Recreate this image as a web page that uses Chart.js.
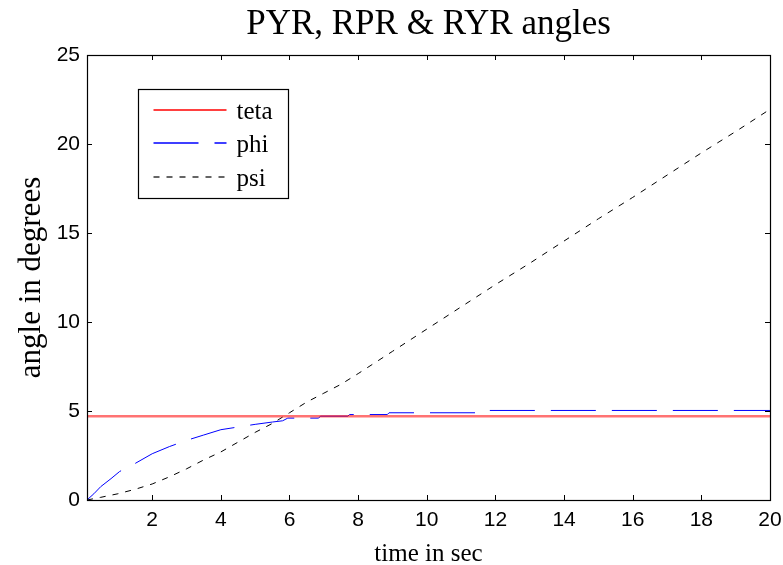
<!DOCTYPE html>
<html>
<head>
<meta charset="utf-8">
<script src="https://cdn.jsdelivr.net/npm/chart.js@4/dist/chart.umd.min.js"></script>
<style>
  body { margin: 0; background: #fff; }
</style>
</head>
<body>
<canvas id="myChart" width="783" height="565"></canvas>
<script>
// values
var xTicks = [2, 4, 6, 8, 10, 12, 14, 16, 18, 20];
var yTicks = [0, 5, 10, 15, 20, 25];

var tetaTime = [0.1, 20];
var tetaAngle = [4.7, 4.7];

var phiTime = [0.1, 0.3, 0.5, 0.8, 1.05, 1.5, 2, 2.5, 3, 3.5, 4, 4.5, 5, 5.5, 5.8, 5.95, 6.85, 6.9, 7.7, 7.75, 8.85, 8.9, 11.45, 11.5, 20];
var phiAngle = [0, 0.35, 0.75, 1.2, 1.6, 2.05, 2.6, 3.0, 3.35, 3.65, 3.95, 4.1, 4.25, 4.38, 4.45, 4.6, 4.6, 4.71, 4.71, 4.8, 4.8, 4.9, 4.9, 5.03, 5.03];

var psiTime = [0.1, 0.5, 1, 1.5, 2, 2.5, 3, 3.5, 4, 4.5, 5, 5.5, 6, 6.5, 7, 7.5, 8, 9, 10, 11, 12, 13, 14, 15, 16, 17, 18, 19, 20];
var psiAngle = [0, 0.15, 0.35, 0.6, 0.9, 1.3, 1.75, 2.25, 2.7, 3.25, 3.8, 4.3, 4.9, 5.5, 6.0, 6.5, 7.1, 8.35, 9.6, 10.85, 12.1, 13.3, 14.55, 15.8, 17.0, 18.25, 19.5, 20.7, 21.95];

// line colours used in the legend box (the plotted teta line is a softer red)
var legendColors = ['#ff0000', '#0000ff', '#333333'];

function toPoints(xs, ys) {
    return xs.map(function (x, i) { return { x: x, y: ys[i] }; });
}

var serif = '"Liberation Serif", "Times New Roman", serif';
var sans = '"Liberation Sans", Arial, sans-serif';

// matlab style box with inward ticks on all four sides
var boxPlugin = {
    id: 'box',
    afterDatasetsDraw: function (chart) {
        var ctx = chart.ctx;
        var a = chart.chartArea;
        var xs = chart.scales.x, ys = chart.scales.y;
        var tl = 5;
        ctx.save();
        ctx.strokeStyle = '#000';
        ctx.lineWidth = 1.2;
        ctx.strokeRect(Math.round(a.left) + 0.5, Math.round(a.top) + 0.5,
            Math.round(a.right - a.left), Math.round(a.bottom - a.top));
        ctx.lineWidth = 1;
        ctx.beginPath();
        xTicks.forEach(function (v) {
            var px = Math.round(xs.getPixelForValue(v)) + 0.5;
            ctx.moveTo(px, a.bottom); ctx.lineTo(px, a.bottom - tl);
            ctx.moveTo(px, a.top); ctx.lineTo(px, a.top + tl);
        });
        yTicks.forEach(function (v) {
            var py = Math.round(ys.getPixelForValue(v)) + 0.5;
            ctx.moveTo(a.left, py); ctx.lineTo(a.left + tl, py);
            ctx.moveTo(a.right, py); ctx.lineTo(a.right - tl, py);
        });
        ctx.stroke();
        ctx.restore();
    }
};

// legend box inside the plot, like matlab's
var legendPlugin = {
    id: 'boxLegend',
    afterDraw: function (chart) {
        var ctx = chart.ctx;
        var a = chart.chartArea;
        var bx = Math.round(a.left) + 51.5, by = Math.round(a.top) + 34.5;
        var bw = 150, bh = 109;
        ctx.save();
        ctx.fillStyle = '#fff';
        ctx.fillRect(bx, by, bw, bh);
        ctx.strokeStyle = '#000';
        ctx.lineWidth = 1.2;
        ctx.strokeRect(bx, by, bw, bh);
        ctx.font = '25px ' + serif;
        ctx.textBaseline = 'middle';
        ctx.textAlign = 'left';
        chart.data.datasets.forEach(function (ds, i) {
            var ly = Math.round(by + 20 + i * 33.5);
            ctx.beginPath();
            ctx.setLineDash(ds.borderDash || []);
            ctx.strokeStyle = legendColors[i];
            ctx.lineWidth = 1.3;
            ctx.moveTo(bx + 15, ly);
            ctx.lineTo(bx + 88, ly);
            ctx.stroke();
            ctx.setLineDash([]);
            ctx.fillStyle = '#000';
            ctx.fillText(ds.label, bx + 98, ly + 2);
        });
        ctx.restore();
    }
};

var ctx = document.getElementById('myChart').getContext('2d');
var myChart = new Chart(ctx, {
    type: 'scatter',
    data: {
        datasets: [
            {
                label: 'teta',
                data: toPoints(tetaTime, tetaAngle),
                showLine: true,
                borderColor: 'rgba(255, 0, 0, 0.55)',
                borderWidth: 2.5,
                pointRadius: 0
            },
            {
                label: 'phi',
                data: toPoints(phiTime, phiAngle),
                showLine: true,
                borderColor: '#0000ff',
                borderWidth: 1,
                borderDash: [45, 16],
                pointRadius: 0
            },
            {
                label: 'psi',
                data: toPoints(psiTime, psiAngle),
                showLine: true,
                borderColor: '#000000',
                borderWidth: 1,
                borderDash: [6, 7],
                pointRadius: 0
            }
        ]
    },
    options: {
        responsive: false,
        animation: false,
        layout: { padding: { left: 0, right: 13, top: 0, bottom: 0 } },
        plugins: {
            legend: { display: false },
            tooltip: { enabled: false },
            title: {
                display: true,
                fullSize: false,
                text: 'PYR, RPR & RYR angles',
                color: '#000',
                font: { family: serif, size: 35, weight: 'normal', lineHeight: 1.2 },
                padding: { top: 4, bottom: 9 }
            }
        },
        scales: {
            x: {
                type: 'linear',
                min: 0.1,
                max: 20,
                grid: { display: false, drawTicks: false },
                border: { display: false },
                afterBuildTicks: function (scale) {
                    scale.ticks = xTicks.map(function (v) { return { value: v }; });
                },
                afterFit: function (scale) {
                    scale.height = 65;
                    scale.paddingRight = 0;
                    scale.paddingLeft = 0;
                },
                ticks: {
                    color: '#000',
                    padding: 8,
                    maxRotation: 0,
                    font: { family: sans, size: 21 }
                },
                title: {
                    display: true,
                    text: 'time in sec',
                    color: '#000',
                    font: { family: serif, size: 25, lineHeight: 0.85 },
                    padding: { top: 0, bottom: 0 }
                }
            },
            y: {
                min: 0,
                max: 25,
                grid: { display: false, drawTicks: false },
                border: { display: false },
                afterBuildTicks: function (scale) {
                    scale.ticks = yTicks.map(function (v) { return { value: v }; });
                },
                afterFit: function (scale) {
                    scale.width = 87;
                    scale.paddingTop = 0;
                    scale.paddingBottom = 0;
                },
                ticks: {
                    color: '#000',
                    padding: 7,
                    font: { family: sans, size: 21 }
                },
                title: {
                    display: true,
                    text: 'angle in degrees',
                    color: '#000',
                    font: { family: serif, size: 31, lineHeight: 1.2 },
                    padding: { top: 13, bottom: 0 }
                }
            }
        }
    },
    plugins: [boxPlugin, legendPlugin]
});
</script>
</body>
</html>
